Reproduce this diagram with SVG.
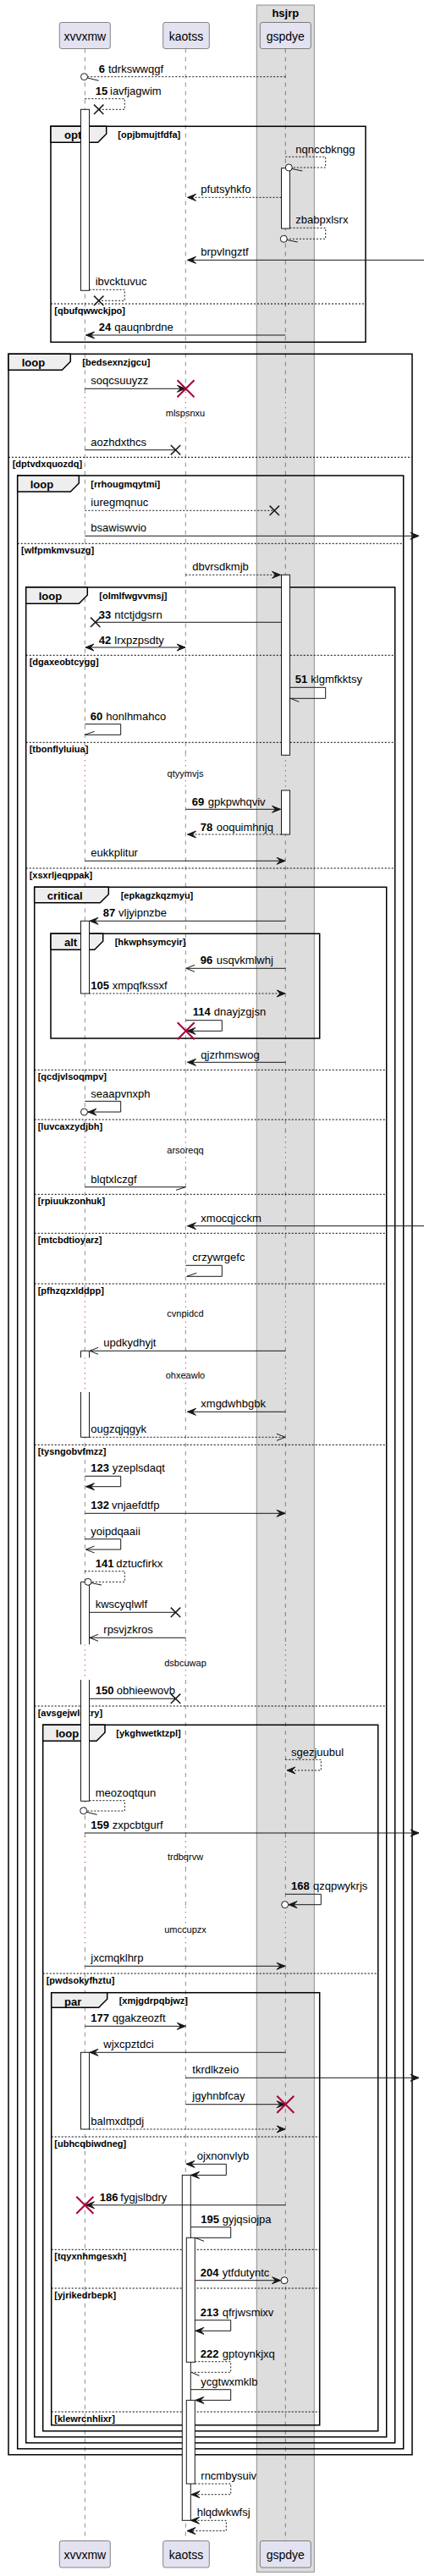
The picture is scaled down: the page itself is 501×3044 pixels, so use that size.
<svg xmlns="http://www.w3.org/2000/svg" width="501" height="3044" viewBox="0 0 501 3044">
<style>
text{font-family:"Liberation Sans",Arial,sans-serif;fill:#000}
.t{font-size:13px}
.n{font-size:13px;font-weight:bold}
.fl{font-size:13px;font-weight:bold}
.fc{font-size:11px;font-weight:bold}
.dl{font-size:11px;text-anchor:middle}
.p{font-size:14px;text-anchor:middle}
.pb{fill:#E2E2F0;stroke:#181818;stroke-width:0.5}
.ll{stroke:#181818;stroke-width:0.5;stroke-dasharray:5,5;fill:none}
.dly{stroke:#A80036;stroke-width:1;stroke-dasharray:1,5;fill:none}
.fr{fill:none;stroke:#000;stroke-width:1.5}
.tab{fill:#EEEEEE;stroke:#000;stroke-width:1.5}
.sep{stroke:#000;stroke-width:1;stroke-dasharray:2,2;fill:none}
.act{fill:#fff;stroke:#181818;stroke-width:1}
.actf{fill:#fff;stroke:none}
.acts{fill:none;stroke:#181818;stroke-width:1}
.m{fill:none;stroke:#181818;stroke-width:1}
.md{fill:none;stroke:#181818;stroke-width:1;stroke-dasharray:2,2}
.fa{marker-end:url(#fa)}
.fb{marker-start:url(#fa);marker-end:url(#fa)}
.oa{marker-end:url(#oa)}
.h{fill:none;stroke:#181818;stroke-width:1}
.x{fill:none;stroke:#181818;stroke-width:1.5}
.rx{fill:none;stroke:#A80036;stroke-width:2}
.c{fill:#fff;stroke:#181818;stroke-width:1}
</style>
<defs>
<marker id="fa" viewBox="-11 -5 12 10" refX="0" refY="0" markerWidth="12" markerHeight="10" markerUnits="userSpaceOnUse" orient="auto-start-reverse">
<path d="M0,0 L-10,-4 L-6,0 L-10,4 Z" fill="#181818" stroke="#181818" stroke-width="1"/>
</marker>
<marker id="oa" viewBox="-11 -5 12 10" refX="0" refY="0" markerWidth="12" markerHeight="10" markerUnits="userSpaceOnUse" orient="auto">
<path d="M-10,-4 L0,0 L-10,4" fill="none" stroke="#181818" stroke-width="1"/>
</marker>
</defs>
<rect width="501" height="3044" fill="#fff"/>
<g id="diagram" opacity="0.999">

<g id="box-hsjrp">
<rect x="303.3" y="6" width="68" height="3033.3" fill="#DDDDDD" stroke="#8f8f8f" stroke-width="1"/>
<text class="fl" x="337.3" y="19.5" text-anchor="middle">hsjrp</text>
</g>

<g id="lifelines">
<path class="ll" d="M100.3,57.5V463.3M100.3,506.7V892.3M100.3,933.3V1337.3M100.3,1378.3V1531.7M100.3,1571.7V1604.3M100.3,1645V1943.3M100.3,1985V2170M100.3,2206.7V2253.3M100.3,2301.7V3002.5"/>
<path class="ll" d="M219.3,57.5V463.3M219.3,506.7V892.3M219.3,933.3V1337.3M219.3,1378.3V1531.7M219.3,1571.7V1604.3M219.3,1645V1943.3M219.3,1985V2170M219.3,2206.7V2253.3M219.3,2301.7V3002.5"/>
<path class="ll" d="M337.3,57.5V463.3M337.3,506.7V892.3M337.3,933.3V1337.3M337.3,1378.3V1531.7M337.3,1571.7V1604.3M337.3,1645V1943.3M337.3,1985V2170M337.3,2206.7V2253.3M337.3,2301.7V3002.5"/>
<path class="dly" d="M100.3,463.3V506.7M219.3,463.3V506.7M337.3,463.3V506.7M100.3,892.3V933.3M219.3,892.3V933.3M337.3,892.3V933.3M100.3,1337.3V1378.3M219.3,1337.3V1378.3M337.3,1337.3V1378.3M100.3,1531.7V1571.7M219.3,1531.7V1571.7M337.3,1531.7V1571.7M100.3,1604.3V1645M219.3,1604.3V1645M337.3,1604.3V1645M100.3,1943.3V1985M219.3,1943.3V1985M337.3,1943.3V1985M100.3,2170V2206.7M219.3,2170V2206.7M337.3,2170V2206.7M100.3,2253.3V2301.7M219.3,2253.3V2301.7M337.3,2253.3V2301.7"/>
<text class="dl" x="219" y="492.3">mlspsnxu</text>
<text class="dl" x="219" y="917.7">qtyymvjs</text>
<text class="dl" x="219" y="1363.3">arsoreqq</text>
<text class="dl" x="219" y="1556">cvnpidcd</text>
<text class="dl" x="219" y="1629.3">ohxeawlo</text>
<text class="dl" x="219" y="1969">dsbcuwap</text>
<text class="dl" x="219" y="2198.3">trdbqrvw</text>
<text class="dl" x="219" y="2284.3">umccupzx</text>
</g>

<g id="p-xvvxmw">
<rect class="pb" x="70.3" y="26.5" width="60" height="31" rx="2.5"/>
<text class="p" x="100.3" y="47.5">xvvxmw</text>
<rect class="pb" x="70.3" y="3002.5" width="60" height="31.5" rx="2.5"/>
<text class="p" x="100.3" y="3023.5">xvvxmw</text>
</g>
<g id="p-kaotss">
<rect class="pb" x="192.7" y="26.5" width="54.6" height="31" rx="2.5"/>
<text class="p" x="220" y="47.5">kaotss</text>
<rect class="pb" x="192.7" y="3002.5" width="54.6" height="31.5" rx="2.5"/>
<text class="p" x="220" y="3023.5">kaotss</text>
</g>
<g id="p-gspdye">
<rect class="pb" x="307.3" y="26.5" width="60" height="31" rx="2.5"/>
<text class="p" x="337.3" y="47.5">gspdye</text>
<rect class="pb" x="307.3" y="3002.5" width="60" height="31.5" rx="2.5"/>
<text class="p" x="337.3" y="3023.5">gspdye</text>
</g>

<g id="frames">
<g id="f-opt">
<rect class="fr" x="60" y="149.3" width="372" height="255"/>
<path class="tab" d="M60,149.3H125.7V158.3L115.7,168.3H60Z"/>
<text class="fl" x="76" y="164.3">opt</text>
<text class="fc" x="139.3" y="163.3">[opjbmujtfdfa]</text>
<line class="sep" x1="60" y1="359" x2="432" y2="359"/>
<text class="fc" x="64.3" y="370.5">[qbufqwwckjpo]</text>
</g>
<g id="f-loop1">
<rect class="fr" x="10" y="418.3" width="477" height="2482.4"/>
<path class="tab" d="M10,418.3H83.3V427.3L73.3,437.3H10Z"/>
<text class="fl" x="25.7" y="433.3">loop</text>
<text class="fc" x="97.3" y="432.3">[bedsexnzjgcu]</text>
<line class="sep" x1="10" y1="540.3" x2="487" y2="540.3"/>
<text class="fc" x="14.7" y="551.8">[dptvdxquozdq]</text>
</g>
<g id="f-loop2">
<rect class="fr" x="20.7" y="562" width="456" height="2331.7"/>
<path class="tab" d="M20.7,562H93.3V571L83.3,581H20.7Z"/>
<text class="fl" x="35.7" y="577">loop</text>
<text class="fc" x="107.3" y="576">[rrhougmqytmi]</text>
<line class="sep" x1="20.7" y1="642.3" x2="476.7" y2="642.3"/>
<text class="fc" x="25" y="653.8">[wlfpmkmvsuzg]</text>
</g>
<g id="f-loop3">
<rect class="fr" x="30.7" y="694" width="436" height="2192.7"/>
<path class="tab" d="M30.7,694H103.3V703.3L93.3,713.3H30.7Z"/>
<text class="fl" x="45.7" y="709">loop</text>
<text class="fc" x="117.3" y="708.3">[olmlfwgvvmsj]</text>
<line class="sep" x1="30.7" y1="774.3" x2="466.7" y2="774.3"/>
<text class="fc" x="34.7" y="785.8">[dgaxeobtcygg]</text>
<line class="sep" x1="30.7" y1="877.3" x2="466.7" y2="877.3"/>
<text class="fc" x="34.7" y="888.8">[tbonflyluiua]</text>
<line class="sep" x1="30.7" y1="1026" x2="466.7" y2="1026"/>
<text class="fc" x="34.7" y="1037.5">[xsxrljeqppak]</text>
</g>
<g id="f-critical">
<rect class="fr" x="40.7" y="1048.3" width="416" height="1831.4"/>
<path class="tab" d="M40.7,1048.3H128.3V1056.7L118.3,1066.7H40.7Z"/>
<text class="fl" x="55.7" y="1063.3">critical</text>
<text class="fc" x="142.7" y="1062.3">[epkagzkqzmyu]</text>
<line class="sep" x1="40.7" y1="1264.3" x2="456.7" y2="1264.3"/>
<text class="fc" x="44.7" y="1275.8">[qcdjvlsoqmpv]</text>
<line class="sep" x1="40.7" y1="1323" x2="456.7" y2="1323"/>
<text class="fc" x="44.7" y="1334.5">[luvcaxzydjbh]</text>
<line class="sep" x1="40.7" y1="1411.3" x2="456.7" y2="1411.3"/>
<text class="fc" x="44.7" y="1422.8">[rpiuukzonhuk]</text>
<line class="sep" x1="40.7" y1="1457.3" x2="456.7" y2="1457.3"/>
<text class="fc" x="44.7" y="1468.8">[mtcbdtioyarz]</text>
<line class="sep" x1="40.7" y1="1517" x2="456.7" y2="1517"/>
<text class="fc" x="44.7" y="1528.5">[pfhzqzxlddpp]</text>
<line class="sep" x1="40.7" y1="1707.3" x2="456.7" y2="1707.3"/>
<text class="fc" x="44.7" y="1718.8">[tysngobvfmzz]</text>
<line class="sep" x1="40.7" y1="2016" x2="456.7" y2="2016"/>
<text class="fc" x="44.7" y="2027.5">[avsgejwloxry]</text>
</g>
<g id="f-alt">
<rect class="fr" x="60" y="1103.3" width="317.7" height="123.7"/>
<path class="tab" d="M60,1103.3H121.7V1112.3L111.7,1122.3H60Z"/>
<text class="fl" x="76" y="1118.3">alt</text>
<text class="fc" x="135.7" y="1117.3">[hkwphsymcyir]</text>
</g>
<g id="f-loop4">
<rect class="fr" x="50.7" y="2038.3" width="396" height="834.4"/>
<path class="tab" d="M50.7,2038.3H124V2047.3L114,2057.3H50.7Z"/>
<text class="fl" x="65.7" y="2053.3">loop</text>
<text class="fc" x="137.3" y="2052.3">[ykghwetktzpl]</text>
<line class="sep" x1="50.7" y1="2332" x2="446.7" y2="2332"/>
<text class="fc" x="54.7" y="2343.5">[pwdsokyfhztu]</text>
</g>
<g id="f-par">
<rect class="fr" x="60.7" y="2354.7" width="317" height="511"/>
<path class="tab" d="M60.7,2354.7H126.7V2362.3L116.7,2372.3H60.7Z"/>
<text class="fl" x="76" y="2369.7">par</text>
<text class="fc" x="140.7" y="2367.7">[xmjgdrpqbjwz]</text>
<line class="sep" x1="60.7" y1="2525" x2="377.7" y2="2525"/>
<text class="fc" x="64.3" y="2536.5">[ubhcqbiwdneg]</text>
<line class="sep" x1="60.7" y1="2658.3" x2="377.7" y2="2658.3"/>
<text class="fc" x="64.3" y="2669.8">[tqyxnhmgesxh]</text>
<line class="sep" x1="60.7" y1="2704" x2="377.7" y2="2704"/>
<text class="fc" x="64.3" y="2715.5">[yjrikedrbepk]</text>
<line class="sep" x1="60.7" y1="2850" x2="377.7" y2="2850"/>
<text class="fc" x="64.3" y="2861.5">[klewrcnhlixr]</text>
</g>
</g>

<g id="activations">
<rect class="act" x="95.5" y="129.3" width="10" height="214"/>
<rect class="act" x="332.5" y="198.7" width="10" height="71.3"/>
<rect class="act" x="332.5" y="679.3" width="10" height="213"/>
<rect class="act" x="332.5" y="934" width="10" height="52"/>
<rect class="act" x="95.5" y="1088.3" width="10" height="85.7"/>
<rect class="actf" x="95.5" y="1596.3" width="10" height="8"/>
<path class="acts" d="M95.5,1604.3V1596.3H105.5V1604.3"/>
<rect class="actf" x="95.5" y="1645" width="10" height="53.3"/>
<path class="acts" d="M95.5,1645V1698.3H105.5V1645"/>
<rect class="actf" x="95.5" y="1869.3" width="10" height="74"/>
<path class="acts" d="M95.5,1943.3V1869.3H105.5V1943.3"/>
<rect class="actf" x="95.5" y="1985" width="10" height="143.3"/>
<path class="acts" d="M95.5,1985V2128.3H105.5V1985"/>
<rect class="act" x="95.5" y="2425.3" width="10" height="90.7"/>
<rect class="act" x="215.3" y="2570.3" width="10" height="408"/>
<rect class="act" x="220.3" y="2644.3" width="10" height="147"/>
<rect class="act" x="220.3" y="2836.3" width="10" height="98.7"/>
</g>

<g id="connectors">
<g><path class="md" d="M337.3,90.7H103.5"/><circle class="c" cx="99.5" cy="90.7" r="4"/><path class="h" d="M103.3,92L116.7,95.3"/>
<text class="n" x="116.7" y="85.5">6</text><text class="t" x="128" y="85.5">tdrkswwqgf</text></g>
<g><path class="md" d="M100.3,116.7H147.3V129.3H116.7"/><path class="x" d="M111,123.6L122.4,135M111,135L122.4,123.6"/>
<text class="n" x="112.7" y="111.7">15</text><text class="t" x="130" y="111.7">iavfjagwim</text></g>
<g><path class="md" d="M337.3,185.3H384.7V198H345.3"/><circle class="c" cx="341.3" cy="198" r="4"/><path class="h" d="M345,199.5L357.3,202"/>
<text class="t" x="349.3" y="180.5">nqnccbkngg</text></g>
<g><path class="md fa" d="M332.5,233.3H221.5"/><text class="t" x="237.3" y="228.3">pfutsyhkfo</text></g>
<g><path class="md" d="M342.5,269.3H384.7V282.3H339.3"/><circle class="c" cx="335.3" cy="282.3" r="4"/><path class="h" d="M339,283.5L351.7,286"/>
<text class="t" x="349.3" y="263.8">zbabpxlsrx</text></g>
<g><path class="m fa" d="M501,307.3H221.5"/><text class="t" x="237.3" y="302.3">brpvlngztf</text></g>
<g><path class="md" d="M105.5,342.3H147.3V355.3H116.7"/><path class="x" d="M111,349.6L122.4,361M111,361L122.4,349.6"/>
<text class="t" x="112.7" y="337.3">ibvcktuvuc</text></g>
<g><path class="m fa" d="M337.3,396H101.5"/><text class="n" x="116.7" y="391.3">24</text><text class="t" x="135.3" y="391.3">qauqnbrdne</text></g>
<g><path class="m fa" d="M100.3,459.3H219.3"/><path class="rx" d="M209.5,449.3L229.5,469.3M209.5,469.3L229.5,449.3"/><text class="t" x="107.3" y="454.3">soqcsuuyzz</text></g>
<g><path class="m" d="M100.3,531.7H207.5"/><path class="x" d="M201.8,526L213.2,537.4M201.8,537.4L213.2,526"/><text class="t" x="107.3" y="526.7">aozhdxthcs</text></g>
<g><path class="md" d="M100.3,603.3H324.3"/><path class="x" d="M318.6,597.6L330,609M318.6,609L330,597.6"/><text class="t" x="107.3" y="598.3">iuregmqnuc</text></g>
<g><path class="m fa" d="M100.3,633.3H495"/><text class="t" x="107.3" y="628.3">bsawiswvio</text></g>
<g><path class="md fa" d="M219.3,679.3H331.5"/><text class="t" x="227.3" y="674.3">dbvrsdkmjb</text></g>
<g><path class="m" d="M332.5,735.3H112.7"/><path class="x" d="M107,729.6L118.4,741M107,741L118.4,729.6"/><text class="n" x="116.7" y="730.5">33</text><text class="t" x="135.3" y="730.5">ntctjdgsrn</text></g>
<g><path class="m fb" d="M101,765H219"/><text class="n" x="116.7" y="760.5">42</text><text class="t" x="135.3" y="760.5">lrxpzpsdty</text></g>
<g><path class="m" d="M342.5,812.3H384.7V825.3H342.5"/><path class="h" d="M343.3,825.3L353.3,829.3"/><text class="n" x="348.7" y="807.3">51</text><text class="t" x="367.3" y="807.3">klgmfkktsy</text></g>
<g><path class="m" d="M100.3,855.7H142.7V868.3H100.3"/><path class="h" d="M100.3,868.3L111.7,864.3"/><text class="n" x="106.7" y="850.7">60</text><text class="t" x="125.3" y="850.7">honlhmahco</text></g>
<g><path class="m fa" d="M219.3,956.3H331.5"/><text class="n" x="226.7" y="951.5">69</text><text class="t" x="245.7" y="951.5">gpkpwhqviv</text></g>
<g><path class="md fa" d="M332.5,986H221.5"/><text class="n" x="236.7" y="981.5">78</text><text class="t" x="255.7" y="981.5">ooquimhnjq</text></g>
<g><path class="m fa" d="M100.3,1017.3H337"/><text class="t" x="107.3" y="1012.3">eukkplitur</text></g>
<g><path class="m fa" d="M337.3,1088.3H106"/><text class="n" x="121.7" y="1083.3">87</text><text class="t" x="140" y="1083.3">vljyipnzbe</text></g>
<g><path class="m oa" d="M337.3,1144.3H220"/><text class="n" x="236.7" y="1139.3">96</text><text class="t" x="255.7" y="1139.3">usqvkmlwhj</text></g>
<g><path class="md fa" d="M105.5,1174H337"/><text class="n" x="107.3" y="1169">105</text><text class="t" x="132.7" y="1169">xmpqfkssxf</text></g>
<g><path class="m fa" d="M219.3,1205.7H262.3V1218.3H221"/><path class="rx" d="M209.7,1208.3L229.7,1228.3M209.7,1228.3L229.7,1208.3"/><text class="n" x="227.7" y="1199.5">114</text><text class="t" x="252.7" y="1199.5">dnayjzgjsn</text></g>
<g><path class="m fa" d="M337.3,1255.3H221.5"/><text class="t" x="237.3" y="1250.5">qjzrhmswog</text></g>
<g><path class="m fa" d="M100.3,1301.3H142.7V1314H104"/><circle class="c" cx="99.5" cy="1314" r="4"/><text class="t" x="107.3" y="1296.7">seaapvnxph</text></g>
<g><path class="m" d="M100.3,1402.7H219.3"/><path class="h" d="M219.3,1402.7L208,1406.3"/><text class="t" x="107.3" y="1397.7">blqtxlczgf</text></g>
<g><path class="m fa" d="M501,1448.7H221.5"/><text class="t" x="237.3" y="1443.5">xmocqjcckm</text></g>
<g><path class="m" d="M219.3,1495.3H262.3V1508.3H220.7"/><path class="h" d="M220.7,1508.3L232.3,1504.3"/><text class="t" x="227.3" y="1490.3">crzywrgefc</text></g>
<g><path class="m oa" d="M337.3,1596.3H106"/><text class="t" x="122.3" y="1591">updkydhyjt</text></g>
<g><path class="m fa" d="M337.3,1668.3H221.5"/><text class="t" x="237.3" y="1663.3">xmgdwhbgbk</text></g>
<g><path class="md oa" d="M105.5,1698.3H337"/><text class="t" x="107.3" y="1693.3">ougzqjqgyk</text></g>
<g><path class="m fa" d="M100.3,1744.3H142.7V1756.7H101.5"/><text class="n" x="107.3" y="1739.3">123</text><text class="t" x="132.7" y="1739.3">yzeplsdaqt</text></g>
<g><path class="m fa" d="M100.3,1788.3H337"/><text class="n" x="107.3" y="1783.3">132</text><text class="t" x="132" y="1783.3">vnjaefdtfp</text></g>
<g><path class="m oa" d="M100.3,1818.7H142.7V1831H101.5"/><text class="t" x="107.3" y="1814">yoipdqaaii</text></g>
<g><path class="md" d="M100.3,1856.7H147.3V1869.3H108"/><circle class="c" cx="104" cy="1869.3" r="4"/><path class="h" d="M107.7,1870.5L120,1873"/><text class="n" x="112.7" y="1851.7">141</text><text class="t" x="137.3" y="1851.7">dztucfirkx</text></g>
<g><path class="m" d="M105.5,1905.3H207.5"/><path class="x" d="M201.8,1899.6L213.2,1911M201.8,1911L213.2,1899.6"/><text class="t" x="112.7" y="1900">kwscyqlwlf</text></g>
<g><path class="m oa" d="M219.3,1935.3H106"/><text class="t" x="122.3" y="1930">rpsvjzkros</text></g>
<g><path class="m" d="M105.5,2007.3H207.5"/><path class="x" d="M201.8,2001.6L213.2,2013M201.8,2013L213.2,2001.6"/><text class="n" x="112.7" y="2002.3">150</text><text class="t" x="137.7" y="2002.3">obhieewovb</text></g>
<g><path class="md fa" d="M337.3,2079.3H379.3V2092H339"/><text class="t" x="344" y="2074.7">sgezjuubul</text></g>
<g><path class="md" d="M105.5,2127.7H147.3V2140H102.7"/><circle class="c" cx="98.7" cy="2139.7" r="4"/><path class="h" d="M102.3,2141.3L114.7,2144.3"/><text class="t" x="112.7" y="2122.7">meozoqtqun</text></g>
<g><path class="m fa" d="M100.3,2166H495"/><text class="n" x="107.3" y="2161">159</text><text class="t" x="132.7" y="2161">zxpcbtgurf</text></g>
<g><path class="m fa" d="M337.3,2238.3H379.3V2250.7H341"/><circle class="c" cx="336.7" cy="2250.7" r="4"/><text class="n" x="344" y="2233.3">168</text><text class="t" x="370" y="2233.3">qzqpwykrjs</text></g>
<g><path class="m fa" d="M100.3,2323.3H337"/><text class="t" x="107.3" y="2318.3">jxcmqklhrp</text></g>
<g><path class="m fa" d="M100.3,2394.3H219.3"/><text class="n" x="107.3" y="2389.3">177</text><text class="t" x="132.7" y="2389.3">qgakzeozft</text></g>
<g><path class="m fa" d="M337.3,2425.3H106"/><text class="t" x="122.3" y="2420">wjxcpztdci</text></g>
<g><path class="m fa" d="M219.3,2455.3H495"/><text class="t" x="227.3" y="2450">tkrdlkzeio</text></g>
<g><path class="m fa" d="M219.3,2486.7H337"/><path class="rx" d="M327.3,2476.7L347.3,2496.7M327.3,2496.7L347.3,2476.7"/><text class="t" x="227.3" y="2480.7">jgyhnbfcay</text></g>
<g><path class="md fa" d="M105.5,2516H337"/><text class="t" x="107.3" y="2511">balmxdtpdj</text></g>
<g><path class="m fb" d="M220,2557.3H267.3V2570.3H225.5"/><text class="t" x="232.7" y="2552.3">ojxnonvlyb</text></g>
<g><path class="m fa" d="M337.3,2605.7H101.5"/><path class="rx" d="M90.3,2595.7L110.3,2615.7M90.3,2615.7L110.3,2595.7"/><text class="n" x="117.7" y="2600.7">186</text><text class="t" x="142.3" y="2600.7">fygjslbdry</text></g>
<g><path class="m" d="M225.3,2631.7H272.7V2644.3H230.3"/><path class="h" d="M230.3,2644.3L241,2648.3"/><text class="n" x="237.3" y="2626.7">195</text><text class="t" x="262.7" y="2626.7">gyjqsiojpa</text></g>
<g><path class="m fa" d="M230.3,2694.7H331.5"/><circle class="c" cx="336" cy="2694.7" r="4"/><text class="n" x="236.7" y="2690">204</text><text class="t" x="262.7" y="2690">ytfdutyntc</text></g>
<g><path class="m fa" d="M230.3,2741.7H272.7V2754.3H231"/><text class="n" x="236.7" y="2736.7">213</text><text class="t" x="262.7" y="2736.7">qfrjwsmixv</text></g>
<g><path class="md" d="M230.3,2790.7H272.7V2803.3H226"/><path class="h" d="M226,2803.3L235.5,2807.3"/><text class="n" x="236.7" y="2785.5">222</text><text class="t" x="262.7" y="2785.5">gptoynkjxq</text></g>
<g><path class="m fa" d="M225.3,2823.7H272.7V2836.3H231"/><text class="t" x="237.3" y="2819">ycgtwxmklb</text></g>
<g><path class="md fa" d="M230.3,2935H272.7V2947.7H226"/><text class="t" x="237.3" y="2930">rncmbysuiv</text></g>
<g><path class="md fb" d="M225.5,2978.3H267.3V2990.7H221"/><text class="t" x="232.7" y="2973.3">hlqdwkwfsj</text></g>
</g>
</g>
</svg>
